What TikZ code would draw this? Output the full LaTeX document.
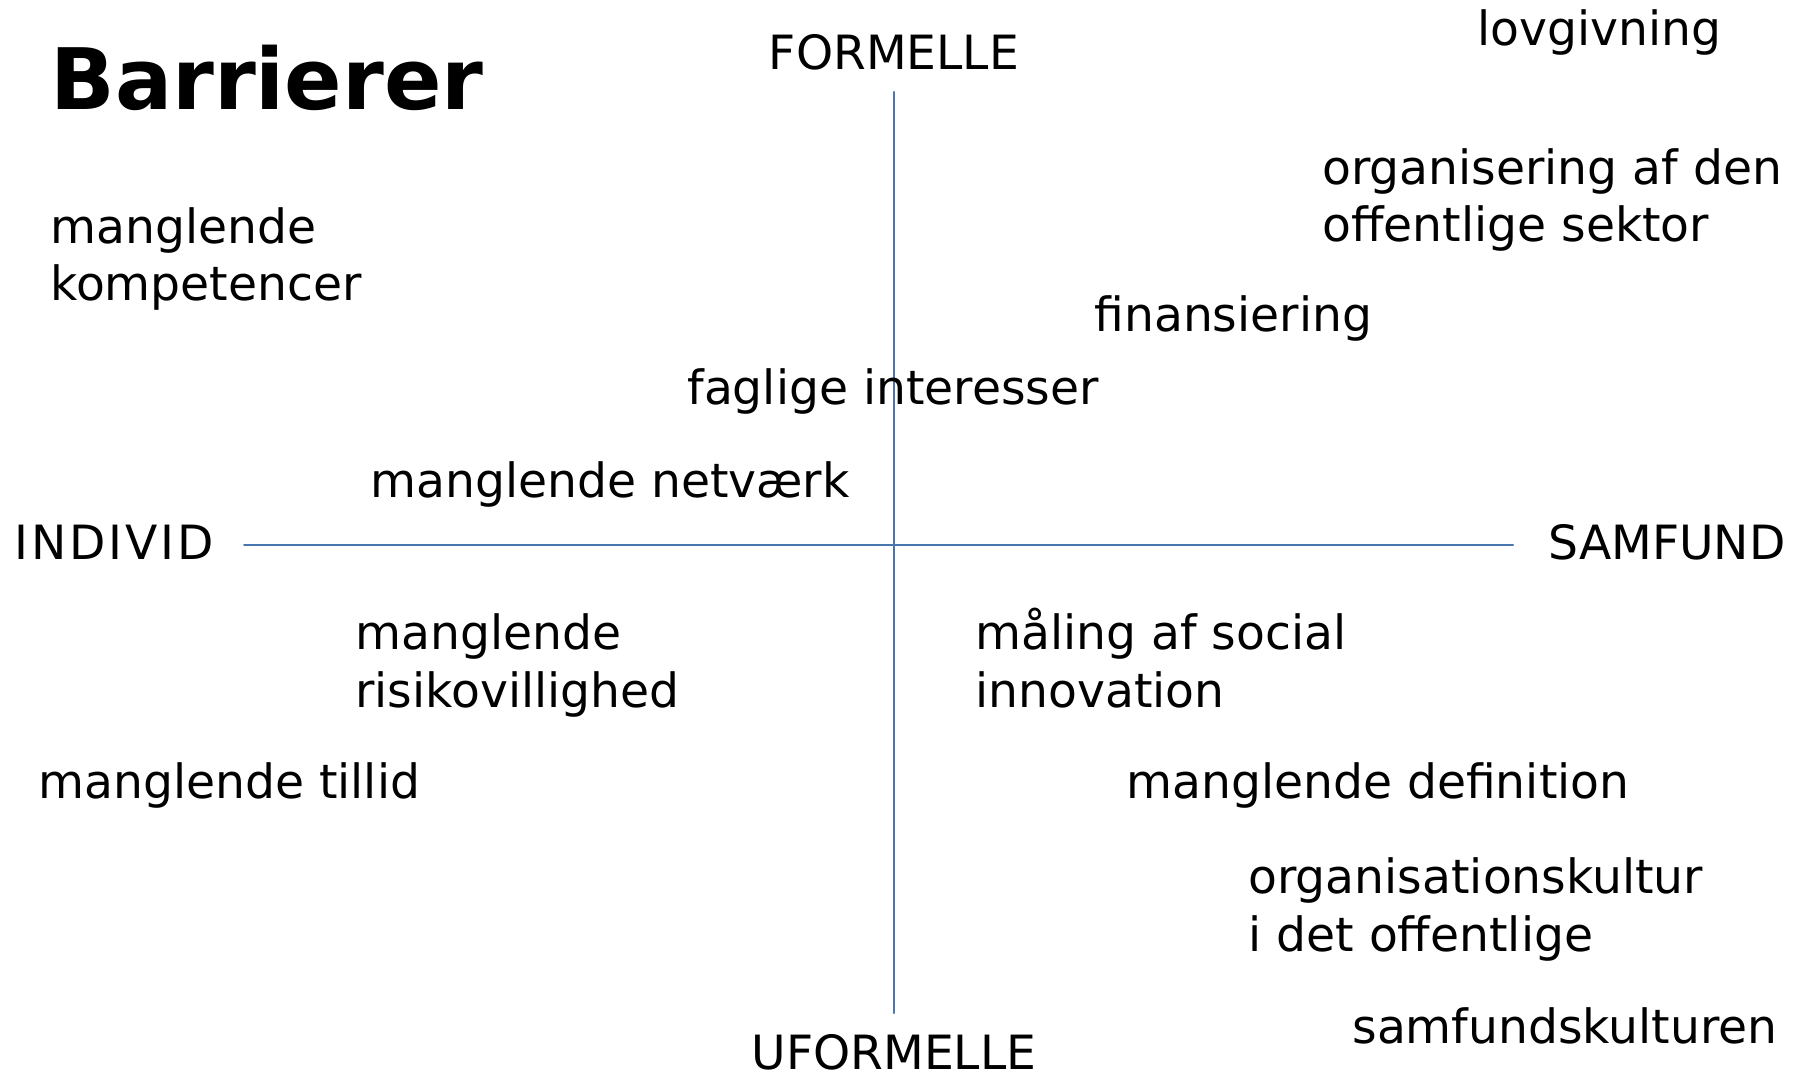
\documentclass[tikz,border=0pt]{standalone}
\usepackage{fontspec}
\setmainfont{DejaVu Sans}
\definecolor{akse}{RGB}{74,118,176}
\tikzset{
	tekst/.style={anchor=base west, inner sep=0pt, align=left},
	aksetekst/.style={inner sep=0pt},
}
\begin{document}
\begin{tikzpicture}[x=0.5pt, y=-0.5pt, font=\fontsize{23.6}{28.9}\selectfont, line join=round, line cap=round]
	\useasboundingbox (0,0) rectangle (1808,1074);
	% akser
	\coordinate (top) at (894,92);
	\coordinate (bund) at (894,1013);
	\coordinate (venstre) at (244,545);
	\coordinate (hoejre) at (1513,545);
	\draw[akse, line width=1pt] (venstre)--(hoejre) (top)--(bund);
	\node[aksetekst, anchor=base] (formelle) at (894,70) {FORMELLE};
	\node[aksetekst, anchor=base] (uformelle) at (894,1069) {UFORMELLE};
	\node[aksetekst, anchor=base west] (individ) at (14,559) {\addfontfeature{LetterSpace=6}INDIVID};
	\node[aksetekst, anchor=base east] (samfund) at (1786,559) {SAMFUND};
	% titel
	\node[tekst, font=\fontsize{42.4}{50}\selectfont\bfseries] (titel) at (50,110) {Barrierer};
	% barrierer (base = sidste linje)
	\node[tekst] (lov) at (1477,46) {lovgivning};
	\node[tekst] (organisering) at (1322,242) {organisering af den\\offentlige sektor};
	\node[tekst] (kompetencer) at (50,301) {manglende\\kompetencer};
	\node[tekst] (finansiering) at (1094,332) {finansiering};
	\node[tekst] (faglige) at (687,405) {faglige interesser};
	\node[tekst] (netvaerk) at (370,497) {manglende netværk};
	\node[tekst] (risiko) at (355,707) {manglende\\risikovillighed};
	\node[tekst] (maaling) at (975,707) {måling af social\\innovation};
	\node[tekst] (tillid) at (38,798) {manglende tillid};
	\node[tekst] (definition) at (1126,798) {manglende definition};
	\node[tekst] (kultur) at (1248,951) {organisationskultur\\i det offentlige};
	\node[tekst] (samfundskultur) at (1352,1043) {samfundskulturen};
\end{tikzpicture}
\end{document}
